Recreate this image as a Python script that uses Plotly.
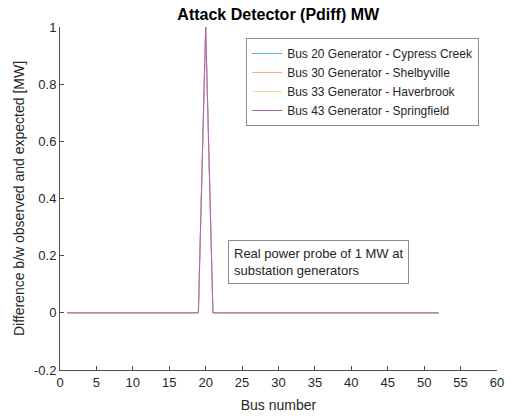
import plotly.graph_objects as go

# ── Data ──────────────────────────────────────────────────────
bus = [1, 2, 3, 4, 5, 6, 7, 8, 9, 10, 11, 12, 13, 14, 15, 16, 17, 18, 19, 20,
       21, 22, 23, 24, 25, 26, 27, 28, 29, 30, 31, 32, 33, 34, 35, 36, 37, 38, 39, 40,
       41, 42, 43, 44, 45, 46, 47, 48, 49, 50, 51, 52]

# all four probes give the same detector response (they overlap in the plot)
pdiff_bus20 = [0, 0, 0, 0, 0, 0, 0, 0, 0, 0, 0, 0, 0, 0, 0, 0, 0, 0, 0, 1,
               0, 0, 0, 0, 0, 0, 0, 0, 0, 0, 0, 0, 0, 0, 0, 0, 0, 0, 0, 0,
               0, 0, 0, 0, 0, 0, 0, 0, 0, 0, 0, 0]
pdiff_bus30 = list(pdiff_bus20)
pdiff_bus33 = list(pdiff_bus20)
pdiff_bus43 = list(pdiff_bus20)

names = [
    "Bus 20 Generator - Cypress Creek",
    "Bus 30 Generator - Shelbyville",
    "Bus 33 Generator - Haverbrook",
    "Bus 43 Generator - Springfield",
]
series = [pdiff_bus20, pdiff_bus30, pdiff_bus33, pdiff_bus43]
colors = ["#5AAAE0", "#EFAE92", "#F7D698", "#A462B4"]

x_ticks = [0, 5, 10, 15, 20, 25, 30, 35, 40, 45, 50, 55, 60]
y_ticks = [-0.2, 0, 0.2, 0.4, 0.6, 0.8, 1]
y_ticklabels = ["-0.2", "0", "0.2", "0.4", "0.6", "0.8", "1"]

# ── Plot ──────────────────────────────────────────────────────
fig = go.Figure()
for name, vals, col in zip(names, series, colors):
    fig.add_trace(go.Scatter(x=bus, y=vals, mode="lines", name=name,
                             line=dict(color=col, width=1)))

axis_col = "#4D4D4D"
fig.update_layout(
    width=505, height=417,
    margin=dict(l=60, r=8, t=27, b=47),
    paper_bgcolor="white", plot_bgcolor="white",
    font=dict(family="Liberation Sans, Arial", size=13, color="#262626"),
    title=dict(text="<b>Attack Detector (Pdiff) MW</b>", x=0.551, xanchor="center",
               y=0.965, yanchor="middle", font=dict(size=16, color="#000000")),
    showlegend=True,
    legend=dict(x=0.426, y=0.968, xanchor="left", yanchor="top",
                bgcolor="white", bordercolor="#8C8C8C", borderwidth=1,
                font=dict(size=12, color="#262626"), tracegroupgap=0,
                itemwidth=30),
)
fig.update_xaxes(range=[0, 60], tickvals=x_ticks, showgrid=False, zeroline=False,
                 showline=True, linecolor=axis_col, linewidth=1,
                 ticks="inside", ticklen=4, tickcolor=axis_col, automargin=False,
                 tickfont=dict(size=13),
                 title=dict(text="Bus number", font=dict(size=14), standoff=11))
fig.update_yaxes(range=[-0.2, 1], tickvals=y_ticks, ticktext=y_ticklabels,
                 showgrid=False, zeroline=False,
                 showline=True, linecolor=axis_col, linewidth=1,
                 ticks="inside", ticklen=4, tickcolor=axis_col, automargin=False,
                 tickfont=dict(size=13),
                 title=dict(text="Difference b/w observed and expected [MW]",
                            font=dict(size=14), standoff=6))

fig.add_annotation(
    x=0.384, y=0.379, xref="paper", yref="paper", xanchor="left", yanchor="top",
    text="Real power probe of 1 MW at<br>substation generators",
    align="left", showarrow=False, font=dict(size=13, color="#262626"),
    bgcolor="white", bordercolor="#8C8C8C", borderwidth=1, borderpad=5,
)

# drop the browser's default body margin so the figure sits at the page corner
fig.write_html("out.html", config={"displayModeBar": False},
               post_script="document.body.style.margin = '0';")
